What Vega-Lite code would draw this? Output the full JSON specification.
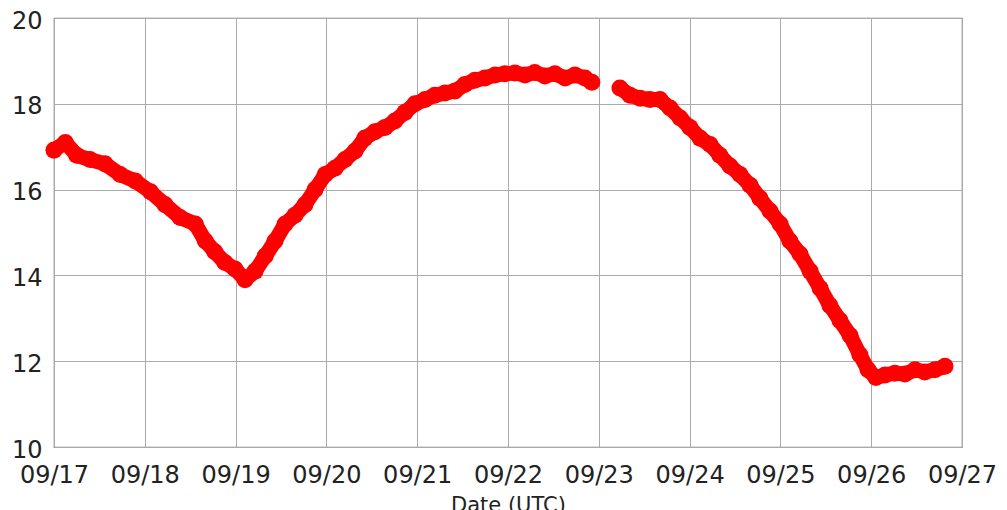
{
  "$schema": "https://vega.github.io/schema/vega-lite/v6.json",
  "width": 908,
  "height": 429,
  "autosize": {"type": "none"},
  "padding": {"left": 54, "top": 18, "right": 45, "bottom": 63},
  "background": "white",
  "config": {
    "view": {"stroke": "#777", "strokeWidth": 1.2},
    "font": "DejaVu Sans"
  },
  "data": {
    "values": [
      {"t": "2012-09-17T00:00:00Z", "v": 16.92, "seg": 1},
      {"t": "2012-09-17T03:00:00Z", "v": 17.1, "seg": 1},
      {"t": "2012-09-17T06:00:00Z", "v": 16.8, "seg": 1},
      {"t": "2012-09-17T09:30:00Z", "v": 16.7, "seg": 1},
      {"t": "2012-09-17T13:30:00Z", "v": 16.6, "seg": 1},
      {"t": "2012-09-17T17:30:00Z", "v": 16.35, "seg": 1},
      {"t": "2012-09-17T21:30:00Z", "v": 16.2, "seg": 1},
      {"t": "2012-09-18T01:30:00Z", "v": 15.95, "seg": 1},
      {"t": "2012-09-18T05:20:00Z", "v": 15.65, "seg": 1},
      {"t": "2012-09-18T09:20:00Z", "v": 15.35, "seg": 1},
      {"t": "2012-09-18T13:20:00Z", "v": 15.2, "seg": 1},
      {"t": "2012-09-18T16:00:00Z", "v": 14.8, "seg": 1},
      {"t": "2012-09-18T18:30:00Z", "v": 14.55, "seg": 1},
      {"t": "2012-09-18T21:10:00Z", "v": 14.3, "seg": 1},
      {"t": "2012-09-18T23:50:00Z", "v": 14.15, "seg": 1},
      {"t": "2012-09-19T02:30:00Z", "v": 13.9, "seg": 1},
      {"t": "2012-09-19T05:10:00Z", "v": 14.1, "seg": 1},
      {"t": "2012-09-19T07:50:00Z", "v": 14.45, "seg": 1},
      {"t": "2012-09-19T10:25:00Z", "v": 14.8, "seg": 1},
      {"t": "2012-09-19T13:05:00Z", "v": 15.2, "seg": 1},
      {"t": "2012-09-19T15:40:00Z", "v": 15.4, "seg": 1},
      {"t": "2012-09-19T18:20:00Z", "v": 15.65, "seg": 1},
      {"t": "2012-09-19T21:00:00Z", "v": 16.0, "seg": 1},
      {"t": "2012-09-19T23:40:00Z", "v": 16.35, "seg": 1},
      {"t": "2012-09-20T02:15:00Z", "v": 16.5, "seg": 1},
      {"t": "2012-09-20T04:55:00Z", "v": 16.7, "seg": 1},
      {"t": "2012-09-20T07:35:00Z", "v": 16.9, "seg": 1},
      {"t": "2012-09-20T10:10:00Z", "v": 17.2, "seg": 1},
      {"t": "2012-09-20T12:50:00Z", "v": 17.35, "seg": 1},
      {"t": "2012-09-20T15:30:00Z", "v": 17.45, "seg": 1},
      {"t": "2012-09-20T18:05:00Z", "v": 17.6, "seg": 1},
      {"t": "2012-09-20T20:45:00Z", "v": 17.8, "seg": 1},
      {"t": "2012-09-20T23:25:00Z", "v": 18.0, "seg": 1},
      {"t": "2012-09-21T02:05:00Z", "v": 18.1, "seg": 1},
      {"t": "2012-09-21T04:40:00Z", "v": 18.2, "seg": 1},
      {"t": "2012-09-21T07:20:00Z", "v": 18.25, "seg": 1},
      {"t": "2012-09-21T10:00:00Z", "v": 18.3, "seg": 1},
      {"t": "2012-09-21T12:35:00Z", "v": 18.45, "seg": 1},
      {"t": "2012-09-21T15:15:00Z", "v": 18.55, "seg": 1},
      {"t": "2012-09-21T17:55:00Z", "v": 18.6, "seg": 1},
      {"t": "2012-09-21T20:35:00Z", "v": 18.67, "seg": 1},
      {"t": "2012-09-21T23:10:00Z", "v": 18.7, "seg": 1},
      {"t": "2012-09-22T01:50:00Z", "v": 18.72, "seg": 1},
      {"t": "2012-09-22T04:30:00Z", "v": 18.67, "seg": 1},
      {"t": "2012-09-22T07:05:00Z", "v": 18.73, "seg": 1},
      {"t": "2012-09-22T09:45:00Z", "v": 18.65, "seg": 1},
      {"t": "2012-09-22T12:25:00Z", "v": 18.7, "seg": 1},
      {"t": "2012-09-22T15:05:00Z", "v": 18.6, "seg": 1},
      {"t": "2012-09-22T17:40:00Z", "v": 18.67, "seg": 1},
      {"t": "2012-09-22T20:20:00Z", "v": 18.6, "seg": 1},
      {"t": "2012-09-22T22:10:00Z", "v": 18.5, "seg": 1},
      {"t": "2012-09-23T05:35:00Z", "v": 18.37, "seg": 2},
      {"t": "2012-09-23T08:15:00Z", "v": 18.2, "seg": 2},
      {"t": "2012-09-23T10:55:00Z", "v": 18.13, "seg": 2},
      {"t": "2012-09-23T13:30:00Z", "v": 18.1, "seg": 2},
      {"t": "2012-09-23T16:10:00Z", "v": 18.1, "seg": 2},
      {"t": "2012-09-23T18:50:00Z", "v": 17.9, "seg": 2},
      {"t": "2012-09-23T21:30:00Z", "v": 17.67, "seg": 2},
      {"t": "2012-09-24T00:05:00Z", "v": 17.45, "seg": 2},
      {"t": "2012-09-24T02:45:00Z", "v": 17.2, "seg": 2},
      {"t": "2012-09-24T05:25:00Z", "v": 17.05, "seg": 2},
      {"t": "2012-09-24T08:00:00Z", "v": 16.8, "seg": 2},
      {"t": "2012-09-24T10:40:00Z", "v": 16.55, "seg": 2},
      {"t": "2012-09-24T13:20:00Z", "v": 16.35, "seg": 2},
      {"t": "2012-09-24T16:00:00Z", "v": 16.1, "seg": 2},
      {"t": "2012-09-24T18:35:00Z", "v": 15.8, "seg": 2},
      {"t": "2012-09-24T21:15:00Z", "v": 15.5, "seg": 2},
      {"t": "2012-09-24T23:55:00Z", "v": 15.2, "seg": 2},
      {"t": "2012-09-25T02:30:00Z", "v": 14.8, "seg": 2},
      {"t": "2012-09-25T05:10:00Z", "v": 14.5, "seg": 2},
      {"t": "2012-09-25T07:50:00Z", "v": 14.1, "seg": 2},
      {"t": "2012-09-25T10:30:00Z", "v": 13.7, "seg": 2},
      {"t": "2012-09-25T13:05:00Z", "v": 13.3, "seg": 2},
      {"t": "2012-09-25T15:45:00Z", "v": 12.95, "seg": 2},
      {"t": "2012-09-25T18:25:00Z", "v": 12.6, "seg": 2},
      {"t": "2012-09-25T21:00:00Z", "v": 12.15, "seg": 2},
      {"t": "2012-09-25T23:10:00Z", "v": 11.8, "seg": 2},
      {"t": "2012-09-26T01:15:00Z", "v": 11.62, "seg": 2},
      {"t": "2012-09-26T03:40:00Z", "v": 11.68, "seg": 2},
      {"t": "2012-09-26T06:15:00Z", "v": 11.72, "seg": 2},
      {"t": "2012-09-26T08:55:00Z", "v": 11.7, "seg": 2},
      {"t": "2012-09-26T11:35:00Z", "v": 11.8, "seg": 2},
      {"t": "2012-09-26T14:10:00Z", "v": 11.75, "seg": 2},
      {"t": "2012-09-26T16:50:00Z", "v": 11.8, "seg": 2},
      {"t": "2012-09-26T19:30:00Z", "v": 11.88, "seg": 2}
    ]
  },
  "encoding": {
    "x": {
      "field": "t",
      "type": "temporal",
      "scale": {"type": "utc", "domain": [{"year": 2012, "month": 9, "date": 17, "utc": true}, {"year": 2012, "month": 9, "date": 27, "utc": true}]},
      "axis": {
        "title": "Date (UTC)",
        "labelExpr": "utcFormat(datum.value, '%m/%d')",
        "tickCount": {"interval": "day", "step": 1},
        "grid": true,
        "gridColor": "#aaa",
        "gridOpacity": 1,
        "gridWidth": 1,
        "domain": false,
        "ticks": false,
        "labelFontSize": 24,
        "labelColor": "#222",
        "labelFont": "DejaVu Sans",
        "labelPadding": 16,
        "labelOverlap": false,
        "labelFlush": false,
        "titleFontSize": 21,
        "titleFontWeight": "normal",
        "titleColor": "#222",
        "titlePadding": 7
      }
    },
    "y": {
      "field": "v",
      "type": "quantitative",
      "scale": {"domain": [10, 20], "zero": false, "nice": false},
      "axis": {
        "title": null,
        "values": [10, 12, 14, 16, 18, 20],
        "grid": true,
        "gridColor": "#aaa",
        "gridOpacity": 1,
        "gridWidth": 1,
        "domain": false,
        "ticks": false,
        "labelFontSize": 24,
        "labelColor": "#222",
        "labelFont": "DejaVu Sans",
        "labelPadding": 12,
        "labelOffset": 3,
        "labelFlush": false
      }
    }
  },
  "layer": [
    {
      "mark": {"type": "line", "color": "#ff0000", "strokeWidth": 15, "strokeCap": "round", "strokeJoin": "round", "clip": false},
      "encoding": {"detail": {"field": "seg", "type": "nominal"}}
    },
    {
      "mark": {"type": "point", "shape": "circle", "filled": true, "color": "#ff0000", "opacity": 1, "size": 290, "clip": false},
      "encoding": {}
    }
  ]
}
